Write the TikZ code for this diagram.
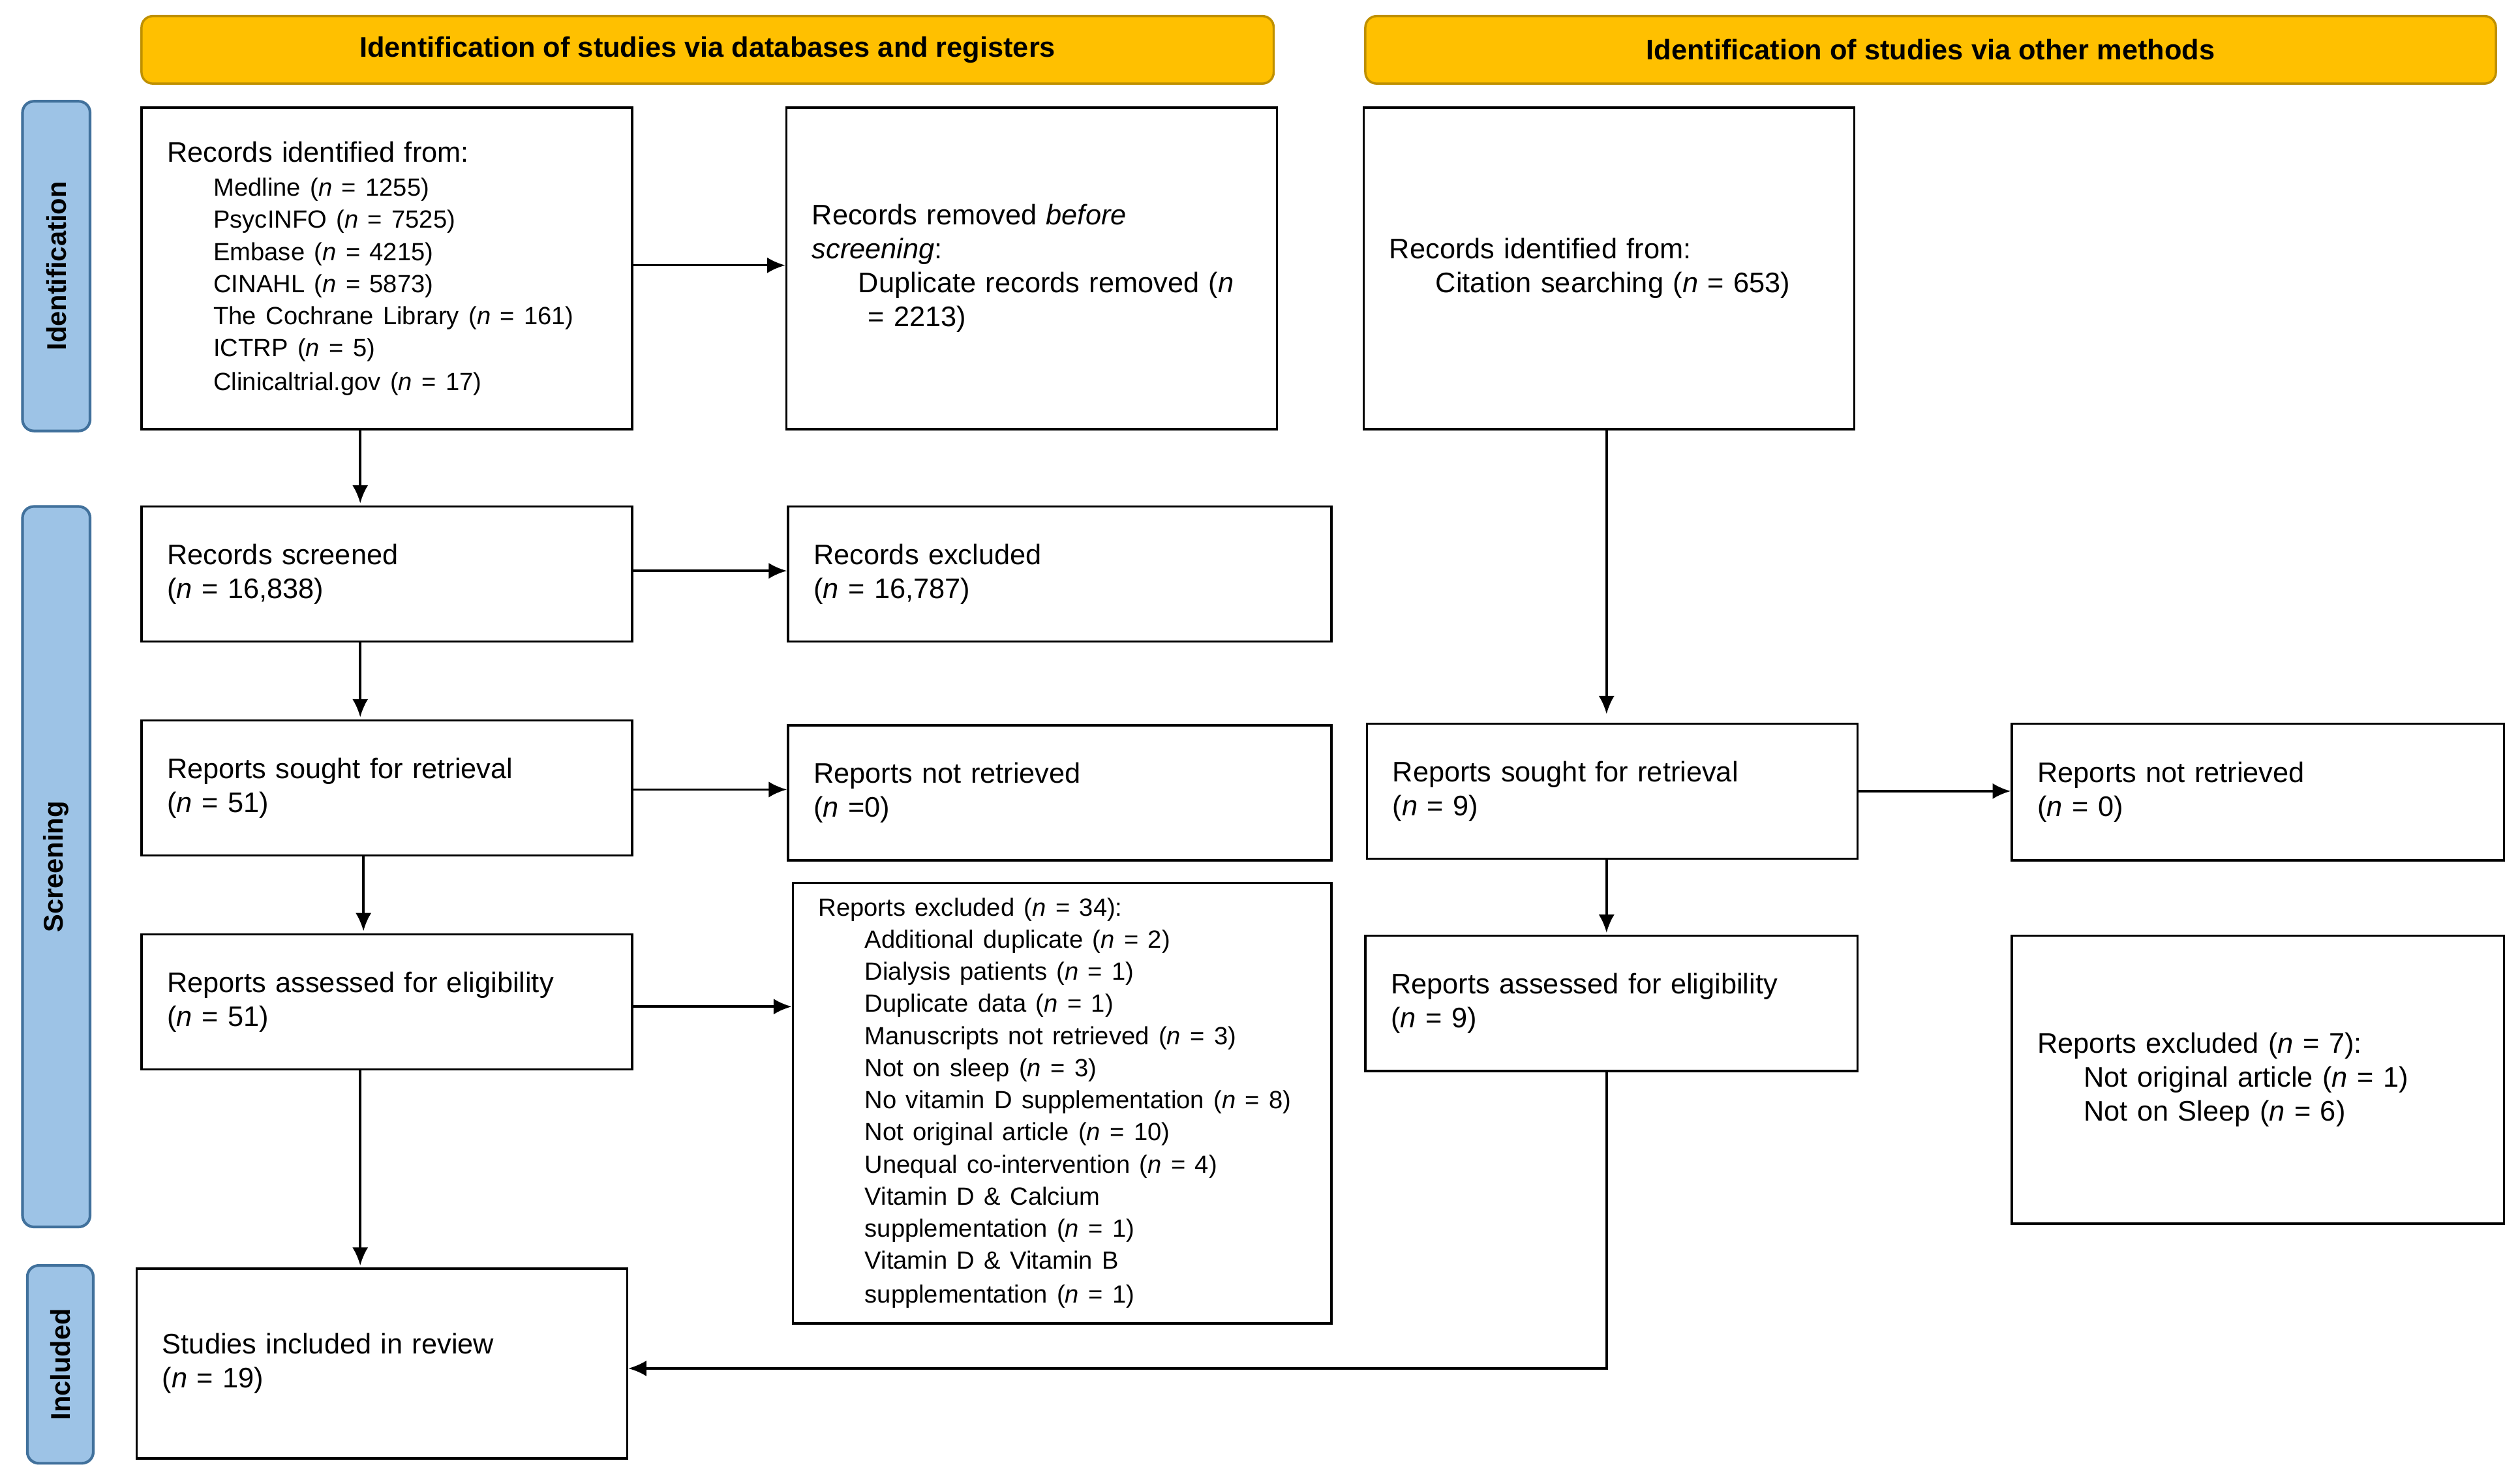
\documentclass[tikz,border=0pt]{standalone}
\usepackage{fontspec}
\setmainfont{Liberation Sans}
\usetikzlibrary{arrows.meta}
\definecolor{hdr}{HTML}{FFC000}
\definecolor{hdrb}{HTML}{BF9000}
\definecolor{side}{HTML}{9DC3E6}
\definecolor{sideb}{HTML}{41719C}
\newcommand\nn{\textit{n}}
\newcommand\ind{\hspace*{0.72cm}}
\newcommand\mybox[6]{%
 \pgfmathsetmacro\bw{(#4-#2)*0.025}\pgfmathsetmacro\bh{(#5-#3)*0.025}\pgfmathsetmacro\tw{(#4-#2-32)*0.025}%
 \node[box, minimum width=\bw cm, minimum height=\bh cm, text width=\tw cm] (#1) at ({(#2+#4)/2},{(#3+#5)/2}) {#6};}
\newcommand\mylab[7]{%
 \pgfmathsetmacro\bw{(#4-#2)*0.025}\pgfmathsetmacro\bh{(#5-#3)*0.025}%
 \node[#6, minimum width=\bw cm, minimum height=\bh cm] (#1) at ({(#2+#4)/2},{(#3+#5)/2}) {#7};}
\begin{document}
\begin{tikzpicture}[x=0.025cm,y=-0.025cm,
 box/.style={draw, line width=1pt, align=left, inner sep=0pt, font=\fontsize{12.5}{15}\selectfont},
 hd/.style={draw=hdrb, fill=hdr, line width=1pt, rounded corners=5pt, font=\bfseries\fontsize{12.5}{15}\selectfont},
 sd/.style={draw=sideb, fill=side, line width=1.2pt, rounded corners=5pt},
 sdt/.style={rotate=90, font=\bfseries\fontsize{12}{14}\selectfont},
 arr/.style={line width=1pt, -{Latex[length=8pt,width=7pt]}},
 small/.style={font=\fontsize{11}{13.6}\selectfont}]
\useasboundingbox (0,0) rectangle (1567,920.4);
\mylab{h1}{88}{10}{792}{52}{hd}{Identification of studies via databases and registers}
\mylab{h2}{849}{10}{1552}{52}{hd}{Identification of studies via other methods}
\mylab{s1}{14}{63}{56}{268}{sd}{}
\mylab{s2}{14}{315}{56}{763}{sd}{}
\mylab{s3}{17}{787}{58}{910}{sd}{}
\node[sdt] at (s1) {Identification};
\node[sdt] at (s2) {Screening};
\node[sdt] at (s3) {Included};

\mybox{A}{88}{67}{393}{267}{Records identified from:\\[1pt]
{\fontsize{11}{14.2}\selectfont
\ind Medline (\nn{} = 1255)\\
\ind PsycINFO (\nn{} = 7525)\\
\ind Embase (\nn{} = 4215)\\
\ind CINAHL (\nn{} = 5873)\\
\ind The Cochrane Library (\nn{} = 161)\\
\ind ICTRP (\nn{} = 5)\\
\ind Clinicaltrial.gov (\nn{} = 17)}}
\mybox{B}{489}{67}{794}{267}{Records removed \textit{before}\\ \textit{screening}:\\
\ind Duplicate records removed (\nn\\ \ind\hspace*{0.15cm}= 2213)}
\mybox{C}{848}{67}{1153}{267}{Records identified from:\\ \ind Citation searching (\nn{} = 653)}
\mybox{D}{88}{315}{393}{399}{Records screened\\(\nn{} = 16,838)}
\mybox{E}{490}{315}{828}{399}{Records excluded\\(\nn{} = 16,787)}
\mybox{F}{88}{448}{393}{532}{Reports sought for retrieval\\(\nn{} = 51)}
\mybox{G}{490}{451}{828}{535}{Reports not retrieved\\(\nn{} =0)}
\mybox{H}{850}{450}{1155}{534}{Reports sought for retrieval\\(\nn{} = 9)}
\mybox{I}{1251}{450}{1557}{535}{Reports not retrieved\\(\nn{} = 0)}
\mybox{J}{88}{581}{393}{665}{Reports assessed for eligibility\\(\nn{} = 51)}
\mybox{K}{493}{549}{828}{823}{{\fontsize{11}{14.2}\selectfont Reports excluded (\nn{} = 34):\\
\ind Additional duplicate (\nn{} = 2)\\
\ind Dialysis patients (\nn{} = 1)\\
\ind Duplicate data (\nn{} = 1)\\
\ind Manuscripts not retrieved (\nn{} = 3)\\
\ind Not on sleep (\nn{} = 3)\\
\ind No vitamin D supplementation (\nn{} = 8)\\
\ind Not original article (\nn{} = 10)\\
\ind Unequal co-intervention (\nn{} = 4)\\
\ind Vitamin D \& Calcium\\
\ind supplementation (\nn{} = 1)\\
\ind Vitamin D \& Vitamin B\\
\ind supplementation (\nn{} = 1)}}
\mybox{L}{849}{582}{1155}{666}{Reports assessed for eligibility\\(\nn{} = 9)}
\mybox{M}{1251}{582}{1557}{761}{Reports excluded (\nn{} = 7):\\
\ind Not original article (\nn{} = 1)\\
\ind Not on Sleep (\nn{} = 6)}
\mybox{N}{85}{789}{390}{907}{Studies included in review\\(\nn{} = 19)}

\draw[arr] (A.east|-0,165) -- (B.west|-0,165);
\draw[arr] (224,267) -- (224,313);
\draw[arr] (D.east|-0,355) -- (E.west|-0,355);
\draw[arr] (224,399) -- (224,446);
\draw[arr] (F.east|-0,491) -- (G.west|-0,491);
\draw[arr] (226,532) -- (226,579);
\draw[arr] (J.east|-0,626) -- (K.west|-0,626);
\draw[arr] (224,665) -- (224,787);
\draw[arr] (999,267) -- (999,444);
\draw[arr] (H.east|-0,492) -- (I.west|-0,492);
\draw[arr] (999,534) -- (999,580);
\draw[arr] (999,666) -- (999,851) -- (N.east|-0,851);
\end{tikzpicture}
\end{document}
